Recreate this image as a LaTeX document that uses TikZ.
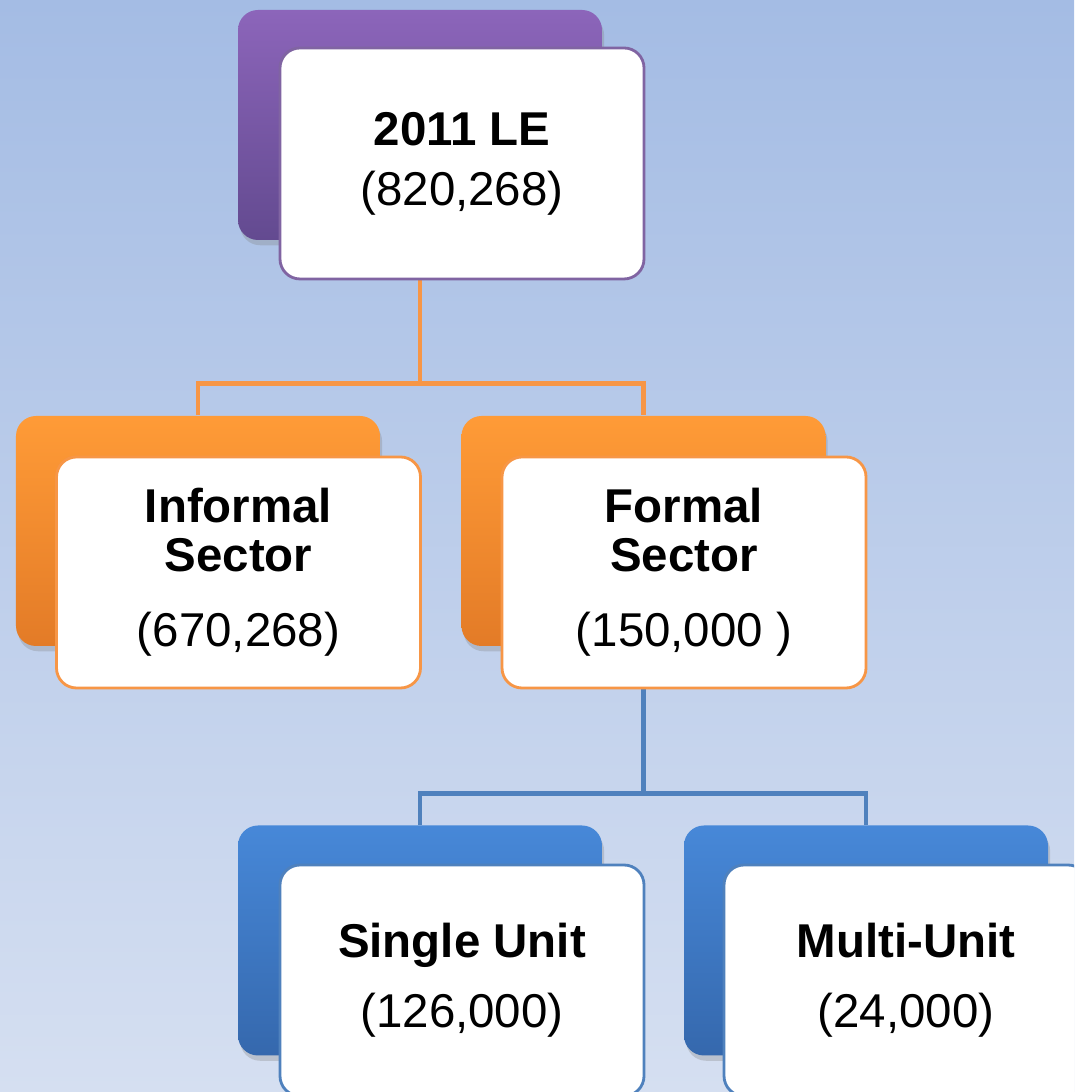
\documentclass[tikz,border=0pt]{standalone}
\usepackage{fontspec}
\setmainfont{Liberation Sans}
\usetikzlibrary{shadows}

\definecolor{bgtop}{HTML}{A4BCE4}
\definecolor{bgbot}{HTML}{D5DFF1}
\definecolor{purptop}{HTML}{8C65BA}
\definecolor{purpbot}{HTML}{634A90}
\definecolor{purpline}{HTML}{8064A2}
\definecolor{orantop}{HTML}{FF9B37}
\definecolor{oranbot}{HTML}{E37B27}
\definecolor{oranline}{HTML}{F79646}
\definecolor{bluetop}{HTML}{4788D8}
\definecolor{bluebot}{HTML}{3568AD}
\definecolor{blueline}{HTML}{4F81BD}

\begin{document}
\begin{tikzpicture}[
    back/.style={rounded corners=0.2cm, minimum width=3.64cm, minimum height=2.3cm, inner sep=0pt,
        drop shadow={opacity=0.3, shadow xshift=0.6pt, shadow yshift=-1.5pt}},
    front/.style={draw=#1, line width=0.8pt, fill=white, rounded corners=0.2cm,
        minimum width=3.64cm, minimum height=2.31cm, inner sep=0pt, align=center,
        font=\fontsize{13.5}{14}\selectfont},
    link/.style={draw=#1, line width=1.4pt}
]
    \useasboundingbox (0,0) rectangle (10.74,10.92);
    \clip (0,0) rectangle (10.74,10.92);
    \shade[top color=bgtop, bottom color=bgbot] (0,0) rectangle (10.74,10.92);

    \node[back, top color=purptop, bottom color=purpbot] (leb) at (4.20,9.67) {};
    \node[back, top color=orantop, bottom color=oranbot] (infb) at (1.98,5.61) {};
    \node[back, top color=orantop, bottom color=oranbot] (forb) at (6.435,5.61) {};
    \node[back, top color=bluetop, bottom color=bluebot] (singb) at (4.20,1.515) {};
    \node[back, top color=bluetop, bottom color=bluebot] (multb) at (8.66,1.515) {};

    \path (leb.south) ++(0,-1.43) coordinate (j1);
    \path (forb.south) ++(0,-1.47) coordinate (j2);
    \draw[link=oranline] (leb.south) -- (j1);
    \draw[link=oranline] (infb.north) |- (j1) -| (forb.north);
    \draw[link=blueline] (forb.south) -- (j2);
    \draw[link=blueline] (singb.north) |- (j2) -| (multb.north);

    \node[front=purpline] (le) at ([shift={(0.42,-0.385)}]leb) {\textbf{2011 LE}\\[3pt](820,268)};
    \node[front=oranline] (inf) at ([shift={(0.405,-0.415)}]infb) {\textbf{Informal}\\\textbf{Sector}\\[7.3pt](670,268)};
    \node[front=oranline] (for) at ([shift={(0.405,-0.415)}]forb) {\textbf{Formal}\\\textbf{Sector}\\[7.3pt](150,000 )};
    \node[front=blueline] (sing) at ([shift={(0.42,-0.40)}]singb) {\textbf{Single Unit}\\[6pt](126,000)};
    \node[front=blueline] (mult) at ([shift={(0.40,-0.40)}]multb) {\textbf{Multi-Unit}\\[6pt](24,000)};
\end{tikzpicture}
\end{document}
